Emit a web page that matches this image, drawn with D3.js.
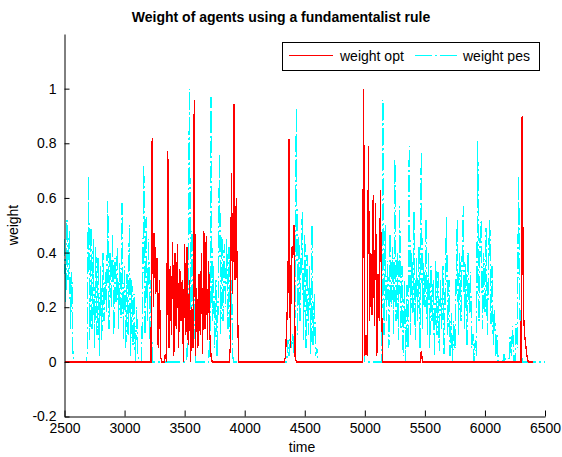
<!DOCTYPE html>
<html>
<head>
<meta charset="utf-8">
<script src="https://cdn.jsdelivr.net/npm/d3@7"></script>
<style>
  body { margin: 0; background: #fff; }
  text { font-family: "Liberation Sans", Arial, Helvetica, sans-serif; }
</style>
</head>
<body>
<div id="chart"></div>
<script>
// time axis runs 2500..6500, samples every 10 steps
var tStart = 2500, tStep = 10, optEnd = 6400, pesEnd = 6500;

// weight opt (red): bursts of activity, zero elsewhere
var optStarts = [3230, 3340, 3880, 4340, 4980, 5460, 6300];
var optValues = [
  [0.82, 0.2, 0.47, 0.25, 0.38, 0.05, 0.3, 0.02],
  [0.03, 0.0, 0.77, 0.05, 0.35, 0.1, 0.44, 0.02, 0.4, 0.12, 0.43, 0.05, 0.34, 0.15, 0.3, 0.0,
   0.43, 0.1, 0.42, 0.06, 0.3, 0.0, 0.2, 0.05, 0.96, 0.02, 0.27, 0.05, 0.32, 0.1, 0.4, 0.03,
   0.48, 0.12, 0.46, 0.08, 0.37, 0.1, 0.02],
  [0.05, 0.69, 0.25, 0.945, 0.3, 0.6, 0.2],
  [0.02, 0.14, 0.26, 0.816, 0.05, 0.42, 0.38, 0.5, 0.02],
  [0.0, 1.0, 0.02, 0.1, 0.02, 0.79, 0.15, 0.4, 0.17, 0.61, 0.13, 0.58, 0.02, 0.32, 0.15, 0.63, 0.2],
  [0.0, 0.04],
  [0.0, 0.9, 0.19, 0.1, 0.06, 0.02]
];

// weight pes (cyan)
var pesStarts = [2500, 2690, 3150, 3520, 3710, 4350, 4980, 5150, 6150, 6200, 6250];
var pesValues = [
  [0.45, 0.22, 0.52, 0.3, 0.48, 0.12, 0.33, 0.03],
  [0.03, 0.68, 0.08, 0.49, 0.12, 0.45, 0.05, 0.42, 0.1, 0.38, 0.02, 0.35, 0.08, 0.4, 0.15, 0.33,
   0.18, 0.59, 0.12, 0.4, 0.2, 0.47, 0.1, 0.38, 0.22, 0.42, 0.12, 0.36, 0.16, 0.58, 0.08, 0.35,
   0.05, 0.32, 0.1, 0.5, 0.02, 0.3, 0.06, 0.25, 0.0, 0.2, 0.03],
  [0.2, 0.72, 0.1, 0.53, 0.15, 0.45, 0.08, 0.3, 0.0],
  [0.02, 0.3, 1.0, 0.1, 0.48, 0.05, 0.38, 0.0],
  [0.1, 0.97, 0.15, 0.35, 0.05, 0.3, 0.02, 0.25, 0.76, 0.1, 0.46, 0.15, 0.43, 0.2, 0.45, 0.12,
   0.42, 0.05, 0.3, 0.02],
  [0.0, 0.08, 0.02, 0.1, 0.05, 0.1, 0.03, 0.2, 0.93, 0.1, 0.46, 0.15, 0.38, 0.55, 0.08, 0.47,
   0.05, 0.39, 0.1, 0.35, 0.03, 0.5, 0.06, 0.25, 0.02, 0.05],
  [0.0, 1.0],
  [0.96, 0.1, 0.5, 0.15, 0.37, 0.05, 0.47, 0.2, 0.42, 0.1, 0.74, 0.15, 0.4, 0.08, 0.57, 0.12,
   0.35, 0.02, 0.3, 0.0, 0.28, 0.05, 0.79, 0.1, 0.4, 0.18, 0.55, 0.08, 0.38, 0.15, 0.42, 0.05,
   0.77, 0.12, 0.36, 0.2, 0.52, 0.1, 0.4, 0.05, 0.35, 0.15, 0.3, 0.02, 0.37, 0.1, 0.33, 0.04,
   0.3, 0.12, 0.35, 0.03, 0.28, 0.53, 0.1, 0.3, 0.02, 0.18, 0.0, 0.15, 0.05, 0.3, 0.52, 0.1,
   0.4, 0.15, 0.38, 0.57, 0.12, 0.36, 0.06, 0.4, 0.18, 0.33, 0.05, 0.1, 0.0, 0.08, 0.02, 0.81,
   0.15, 0.45, 0.52, 0.12, 0.4, 0.18, 0.49, 0.1, 0.38, 0.52, 0.14, 0.35, 0.06, 0.19, 0.02, 0.1],
  [0.0, 0.03],
  [0.0, 0.09, 0.02, 0.13],
  [0.0, 0.14, 0.05, 0.68, 0.2, 0.05]
];

var xTicks = [2500, 3000, 3500, 4000, 4500, 5000, 5500, 6000, 6500];
var yTicks = [-0.2, 0, 0.2, 0.4, 0.6, 0.8, 1];

var width = 562, height = 457;

var svg = d3.select("#chart").append("svg")
  .attr("width", width)
  .attr("height", height);

var x = d3.scaleLinear().domain([2500, 6500]).range([64.5, 545]);
var y = d3.scaleLinear().domain([-0.2, 1.2]).range([416.5, 34]);

// put bursts on a zero baseline
function build(starts, values, end) {
  var pts = [];
  var last = tStart - tStep;
  starts.forEach(function (s, i) {
    if (s - tStep > last) {
      pts.push([last + tStep, 0]);
      pts.push([s - tStep, 0]);
    }
    values[i].forEach(function (v, j) { pts.push([s + j * tStep, v]); });
    last = s + (values[i].length - 1) * tStep;
  });
  pts.push([last + tStep, 0]);
  pts.push([end, 0]);
  return pts;
}

var line = d3.line()
  .x(function (d) { return x(d[0]); })
  .y(function (d) { return y(d[1]); });

svg.append("path")
  .datum(build(pesStarts, pesValues, pesEnd))
  .attr("d", line)
  .attr("fill", "none")
  .attr("stroke", "#00ffff")
  .attr("stroke-width", 1.3)
  .attr("shape-rendering", "crispEdges")
  .attr("stroke-dasharray", "17,3,2,3");

svg.append("path")
  .datum(build(optStarts, optValues, optEnd))
  .attr("d", line)
  .attr("fill", "none")
  .attr("stroke", "#ff0000")
  .attr("stroke-width", 1.3)
  .attr("shape-rendering", "crispEdges");

var fmt = function (d) { return String(+d.toFixed(1)); };

var xAxis = svg.append("g")
  .attr("transform", "translate(0," + y(-0.2) + ")")
  .call(d3.axisBottom(x).tickValues(xTicks).tickSize(-6).tickSizeOuter(0).tickPadding(7).tickFormat(fmt));

var yAxis = svg.append("g")
  .attr("transform", "translate(" + x(2500) + ",0)")
  .call(d3.axisLeft(y).tickValues(yTicks).tickSize(-5).tickSizeOuter(0).tickPadding(8).tickFormat(fmt));

svg.selectAll(".tick text")
  .attr("font-size", "14px")
  .attr("font-family", "Liberation Sans, Arial, sans-serif")
  .attr("fill", "#000");
svg.selectAll(".domain, .tick line").attr("stroke", "#000");

svg.append("text")
  .attr("x", 281).attr("y", 22)
  .attr("text-anchor", "middle")
  .attr("font-size", "14px")
  .attr("font-weight", "bold")
  .text("Weight of agents using a fundamentalist rule");

svg.append("text")
  .attr("x", 302).attr("y", 452)
  .attr("text-anchor", "middle")
  .attr("font-size", "14px")
  .text("time");

svg.append("text")
  .attr("transform", "translate(18,225) rotate(-90)")
  .attr("text-anchor", "middle")
  .attr("font-size", "14px")
  .text("weight");

// legend
var legend = svg.append("g");
legend.append("rect")
  .attr("x", 282.5).attr("y", 42.5)
  .attr("width", 257).attr("height", 28)
  .attr("fill", "#fff")
  .attr("stroke", "#000");
legend.append("line")
  .attr("x1", 289).attr("x2", 333).attr("y1", 55.5).attr("y2", 55.5)
  .attr("stroke", "#ff0000")
  .attr("stroke-width", 1)
  .attr("shape-rendering", "crispEdges");
legend.append("text")
  .attr("x", 340).attr("y", 61)
  .attr("font-size", "14px")
  .text("weight opt");
legend.append("line")
  .attr("x1", 415).attr("x2", 458).attr("y1", 55.5).attr("y2", 55.5)
  .attr("stroke", "#00ffff")
  .attr("stroke-width", 1)
  .attr("shape-rendering", "crispEdges")
  .attr("stroke-dasharray", "17,3,2,3");
legend.append("text")
  .attr("x", 463).attr("y", 61)
  .attr("font-size", "14px")
  .text("weight pes");
</script>
</body>
</html>
